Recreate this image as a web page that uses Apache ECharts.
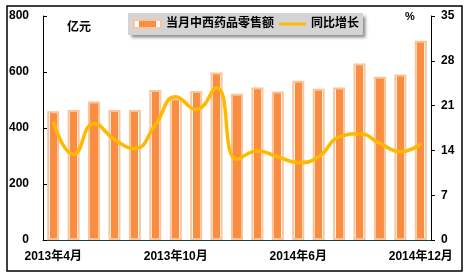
<!DOCTYPE html>
<html>
<head>
<meta charset="utf-8"/>
<script src="https://cdn.jsdelivr.net/npm/echarts@6/dist/echarts.min.js"></script>
<style>
  html, body { margin: 0; padding: 0; background: #fff; }
  #main { width: 471px; height: 277px; }
</style>
</head>
<body>
<div id="main"></div>
<script>
// 月份（2014年1、2月无单月数据）
const months = ['2013年4月', '2013年5月', '2013年6月', '2013年7月', '2013年8月', '2013年9月',
  '2013年10月', '2013年11月', '2013年12月', '2014年3月', '2014年4月', '2014年5月',
  '2014年6月', '2014年7月', '2014年8月', '2014年9月', '2014年10月', '2014年11月', '2014年12月']
// 当月中西药品零售额（亿元）
const sales = [460, 464, 495, 464, 464, 536, 505, 532, 598, 522, 545, 530, 569, 540, 545, 630, 583, 591, 712]
// 同比增长（%）
const growth = [18.5, 13.4, 18.2, 15.7, 14.3, 18.0, 22.4, 20.4, 23.8, 12.6, 13.9, 13.0, 12.1, 13.0, 16.1, 16.6, 15.1, 13.8, 15.0]

const bold = { fontFamily: 'Liberation Sans, Noto Sans CJK SC', fontWeight: 'bold', color: '#000' }

// 柱子：浅橙边框 + 白色间隙 + 橙色填充
const barFill = {
    type: 'linear', x: 0, y: 0, x2: 1, y2: 0,
    colorStops: [
        { offset: 0, color: '#fff' }, { offset: 0.2, color: '#fff' },
        { offset: 0.2, color: '#f98e42' }, { offset: 0.8, color: '#f98e42' },
        { offset: 0.8, color: '#fff' }, { offset: 1, color: '#fff' }
    ]
}

var myChart = echarts.init(document.getElementById('main'))
var option = {
    animation: false,
    grid: { left: 43, right: 40, top: 16, bottom: 37 },
    legend: {
        data: [
            { name: '当月中西药品零售额', icon: 'rect' },
            { name: '同比增长', icon: 'path://M0,0 L28,0 L28,3 L0,3 Z', itemStyle: { color: '#ffb900' } }
        ],
        left: 128,
        top: 13,
        padding: [5, 4, 5, 5],
        itemGap: 5,
        itemWidth: 27,
        itemHeight: 8,
        backgroundColor: '#d4d4d4',
        shadowColor: 'rgba(0,0,0,0.45)',
        shadowBlur: 3,
        shadowOffsetX: 3,
        shadowOffsetY: 3,
        textStyle: Object.assign({ fontSize: 12 }, bold)
    },
    xAxis: {
        type: 'category',
        data: months,
        boundaryGap: true,
        axisLine: { lineStyle: { color: '#1f3a4a', width: 1 } },
        axisTick: { interval: 0, inside: true, length: 3, lineStyle: { color: '#1f3a4a' } },
        axisLabel: Object.assign({ interval: 5, fontSize: 12, margin: 11 }, bold)
    },
    yAxis: [{
        type: 'value',
        min: 0,
        max: 800,
        interval: 200,
        splitLine: { show: false },
        axisLine: { show: true, lineStyle: { color: '#000' } },
        axisTick: { show: true, inside: true, length: 4, lineStyle: { color: '#000' } },
        axisLabel: Object.assign({ fontSize: 12, margin: 14 }, bold)
    }, {
        type: 'value',
        min: 0,
        max: 35,
        interval: 7,
        position: 'right',
        splitLine: { show: false },
        axisLine: { show: true, lineStyle: { color: '#000' } },
        axisTick: { show: true, length: 4, lineStyle: { color: '#000' } },
        axisLabel: Object.assign({ fontSize: 12, margin: 10 }, bold)
    }],
    series: [{
        name: '当月中西药品零售额',
        type: 'bar',
        data: sales,
        barWidth: 12,
        itemStyle: { color: barFill, borderColor: '#fbc49a', borderWidth: 2 },
        z: 2
    }, {
        name: '同比增长',
        type: 'line',
        yAxisIndex: 1,
        data: growth,
        smooth: 0.5,
        symbol: 'none',
        lineStyle: { color: '#ffb900', width: 3.5 },
        itemStyle: { color: '#ffb900' },
        z: 3
    }],
    graphic: [{
        type: 'rect',
        shape: { x: 7, y: 6, width: 455, height: 265 },
        style: { fill: 'none', stroke: '#000', lineWidth: 1.5 },
        silent: true
    }, {
        type: 'text',
        left: 67,
        top: 22,
        style: Object.assign({ text: '亿元', fontSize: 12, fill: '#000' }, bold)
    }, {
        type: 'text',
        left: 405,
        top: 11,
        style: Object.assign({ text: '%', fontSize: 11, fill: '#000' }, bold)
    }]
}
myChart.setOption(option)
</script>
</body>
</html>
